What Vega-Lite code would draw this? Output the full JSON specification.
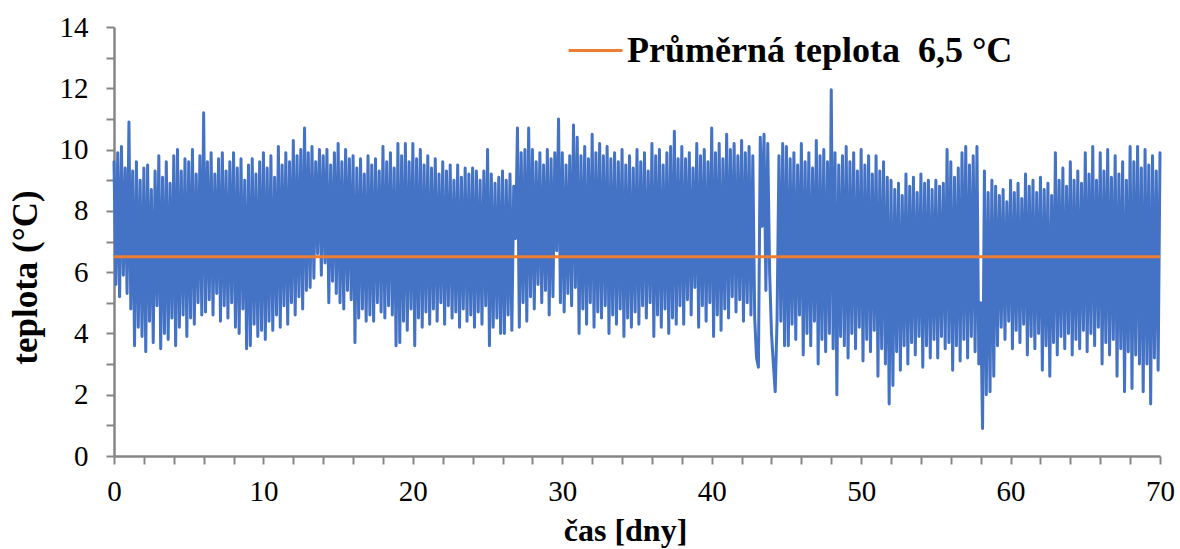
{
"$schema": "https://vega.github.io/schema/vega-lite/v6.json",
"width": 1046, "height": 429,
"autosize": {"type": "none"},
"padding": {"left": 114, "top": 27, "right": 20, "bottom": 93},
"background": "white",
"config": {"view": {"stroke": null}, "font": "Liberation Serif",
 "axis": {"domainColor": "#868686", "domainWidth": 2.5, "tickColor": "#868686", "tickWidth": 2, "tickSize": 8, "grid": false, "labelOverlap": false,
  "labelFont": "Liberation Serif", "labelFontSize": 29, "labelColor": "black", "titleFont": "Liberation Serif", "titleFontWeight": "bold", "titleColor": "black"}},
"datasets": {"temp": [
{"t":0,"v":9.6},{"t":0.125,"v":5.6},{"t":0.25,"v":9.9},{"t":0.375,"v":5.2},{"t":0.5,"v":10.1},{"t":0.625,"v":5.9},{"t":0.75,"v":9.4},{"t":0.875,"v":5.3},
{"t":1,"v":10.9},{"t":1.125,"v":4.8},{"t":1.25,"v":9.3},{"t":1.375,"v":3.6},{"t":1.5,"v":9.6},{"t":1.625,"v":4.2},{"t":1.75,"v":9.0},{"t":1.875,"v":3.9},
{"t":2,"v":9.4},{"t":2.125,"v":3.4},{"t":2.25,"v":9.5},{"t":2.375,"v":4.4},{"t":2.5,"v":8.7},{"t":2.625,"v":3.7},{"t":2.75,"v":9.3},{"t":2.875,"v":4.9},
{"t":3,"v":9.8},{"t":3.125,"v":3.5},{"t":3.25,"v":9.1},{"t":3.375,"v":4.0},{"t":3.5,"v":9.6},{"t":3.625,"v":3.8},{"t":3.75,"v":8.9},{"t":3.875,"v":4.5},
{"t":4,"v":9.8},{"t":4.125,"v":3.6},{"t":4.25,"v":10.0},{"t":4.375,"v":4.2},{"t":4.5,"v":9.3},{"t":4.625,"v":4.6},{"t":4.75,"v":9.7},{"t":4.875,"v":3.9},
{"t":5,"v":9.6},{"t":5.125,"v":4.5},{"t":5.25,"v":10.0},{"t":5.375,"v":4.3},{"t":5.5,"v":9.2},{"t":5.625,"v":5.0},{"t":5.75,"v":9.8},{"t":5.875,"v":4.6},
{"t":6,"v":11.2},{"t":6.125,"v":4.7},{"t":6.25,"v":9.6},{"t":6.375,"v":5.1},{"t":6.5,"v":9.9},{"t":6.625,"v":4.6},{"t":6.75,"v":9.2},{"t":6.875,"v":5.3},
{"t":7,"v":9.7},{"t":7.125,"v":4.4},{"t":7.25,"v":9.9},{"t":7.375,"v":4.9},{"t":7.5,"v":9.3},{"t":7.625,"v":4.5},{"t":7.75,"v":9.6},{"t":7.875,"v":5.0},
{"t":8,"v":9.9},{"t":8.125,"v":4.2},{"t":8.25,"v":9.4},{"t":8.375,"v":4.0},{"t":8.5,"v":9.7},{"t":8.625,"v":4.8},{"t":8.75,"v":9.0},{"t":8.875,"v":3.5},
{"t":9,"v":9.5},{"t":9.125,"v":3.6},{"t":9.25,"v":9.7},{"t":9.375,"v":4.3},{"t":9.5,"v":9.2},{"t":9.625,"v":3.9},{"t":9.75,"v":9.6},{"t":9.875,"v":4.1},
{"t":10,"v":9.9},{"t":10.125,"v":3.8},{"t":10.25,"v":9.4},{"t":10.375,"v":4.4},{"t":10.5,"v":9.8},{"t":10.625,"v":4.1},{"t":10.75,"v":9.1},{"t":10.875,"v":4.6},
{"t":11,"v":10.1},{"t":11.125,"v":4.2},{"t":11.25,"v":9.5},{"t":11.375,"v":4.9},{"t":11.5,"v":9.9},{"t":11.625,"v":4.3},{"t":11.75,"v":9.6},{"t":11.875,"v":5.0},
{"t":12,"v":10.3},{"t":12.125,"v":4.6},{"t":12.25,"v":9.8},{"t":12.375,"v":5.2},{"t":12.5,"v":10.0},{"t":12.625,"v":4.8},{"t":12.75,"v":10.7},{"t":12.875,"v":5.4},
{"t":13,"v":9.9},{"t":13.125,"v":5.5},{"t":13.25,"v":10.1},{"t":13.375,"v":5.8},{"t":13.5,"v":9.6},{"t":13.625,"v":6.6},{"t":13.75,"v":10.0},{"t":13.875,"v":5.9},
{"t":14,"v":9.8},{"t":14.125,"v":6.3},{"t":14.25,"v":10.0},{"t":14.375,"v":5.0},{"t":14.5,"v":9.5},{"t":14.625,"v":5.7},{"t":14.75,"v":9.9},{"t":14.875,"v":5.3},
{"t":15,"v":10.2},{"t":15.125,"v":5.0},{"t":15.25,"v":9.6},{"t":15.375,"v":4.8},{"t":15.5,"v":10.0},{"t":15.625,"v":5.4},{"t":15.75,"v":9.7},{"t":15.875,"v":5.1},
{"t":16,"v":9.8},{"t":16.125,"v":3.7},{"t":16.25,"v":9.4},{"t":16.375,"v":4.5},{"t":16.5,"v":9.7},{"t":16.625,"v":4.8},{"t":16.75,"v":9.2},{"t":16.875,"v":4.4},
{"t":17,"v":9.8},{"t":17.125,"v":4.6},{"t":17.25,"v":9.5},{"t":17.375,"v":4.4},{"t":17.5,"v":9.7},{"t":17.625,"v":5.0},{"t":17.75,"v":9.3},{"t":17.875,"v":4.7},
{"t":18,"v":10.1},{"t":18.125,"v":4.5},{"t":18.25,"v":9.6},{"t":18.375,"v":4.9},{"t":18.5,"v":9.9},{"t":18.625,"v":4.6},{"t":18.75,"v":9.4},{"t":18.875,"v":3.6},
{"t":19,"v":10.2},{"t":19.125,"v":3.7},{"t":19.25,"v":9.8},{"t":19.375,"v":4.4},{"t":19.5,"v":10.2},{"t":19.625,"v":4.1},{"t":19.75,"v":9.6},{"t":19.875,"v":4.8},
{"t":20,"v":10.2},{"t":20.125,"v":3.6},{"t":20.25,"v":9.7},{"t":20.375,"v":4.5},{"t":20.5,"v":10.0},{"t":20.625,"v":4.2},{"t":20.75,"v":9.5},{"t":20.875,"v":4.7},
{"t":21,"v":9.8},{"t":21.125,"v":4.3},{"t":21.25,"v":9.4},{"t":21.375,"v":4.8},{"t":21.5,"v":9.7},{"t":21.625,"v":4.4},{"t":21.75,"v":9.2},{"t":21.875,"v":5.0},
{"t":22,"v":9.6},{"t":22.125,"v":4.3},{"t":22.25,"v":9.3},{"t":22.375,"v":4.9},{"t":22.5,"v":9.5},{"t":22.625,"v":4.5},{"t":22.75,"v":9.0},{"t":22.875,"v":4.7},
{"t":23,"v":9.5},{"t":23.125,"v":4.2},{"t":23.25,"v":9.1},{"t":23.375,"v":4.8},{"t":23.5,"v":9.4},{"t":23.625,"v":4.4},{"t":23.75,"v":9.2},{"t":23.875,"v":4.6},
{"t":24,"v":9.4},{"t":24.125,"v":4.2},{"t":24.25,"v":9.3},{"t":24.375,"v":4.7},{"t":24.5,"v":9.0},{"t":24.625,"v":4.3},{"t":24.75,"v":9.3},{"t":24.875,"v":4.9},
{"t":25,"v":10.0},{"t":25.125,"v":3.6},{"t":25.25,"v":9.2},{"t":25.375,"v":4.2},{"t":25.5,"v":8.9},{"t":25.625,"v":4.5},{"t":25.75,"v":9.1},{"t":25.875,"v":4.0},
{"t":26,"v":9.3},{"t":26.125,"v":4.0},{"t":26.25,"v":9.0},{"t":26.375,"v":4.6},{"t":26.5,"v":9.2},{"t":26.625,"v":4.1},{"t":26.75,"v":8.8},{"t":26.875,"v":7.1},
{"t":27,"v":10.7},{"t":27.125,"v":4.2},{"t":27.25,"v":9.9},{"t":27.375,"v":5.0},{"t":27.5,"v":10.0},{"t":27.625,"v":4.4},{"t":27.75,"v":10.7},{"t":27.875,"v":5.2},
{"t":28,"v":10.0},{"t":28.125,"v":4.8},{"t":28.25,"v":9.6},{"t":28.375,"v":5.6},{"t":28.5,"v":9.9},{"t":28.625,"v":5.0},{"t":28.75,"v":9.5},{"t":28.875,"v":5.4},
{"t":29,"v":10.0},{"t":29.125,"v":4.6},{"t":29.25,"v":9.7},{"t":29.375,"v":5.2},{"t":29.5,"v":9.9},{"t":29.625,"v":6.7},{"t":29.75,"v":11.0},{"t":29.875,"v":5.0},
{"t":30,"v":9.9},{"t":30.125,"v":4.7},{"t":30.25,"v":9.5},{"t":30.375,"v":5.3},{"t":30.5,"v":9.8},{"t":30.625,"v":4.9},{"t":30.75,"v":10.8},{"t":30.875,"v":5.5},
{"t":31,"v":10.4},{"t":31.125,"v":4.0},{"t":31.25,"v":9.8},{"t":31.375,"v":4.8},{"t":31.5,"v":10.1},{"t":31.625,"v":4.3},{"t":31.75,"v":9.7},{"t":31.875,"v":5.0},
{"t":32,"v":10.5},{"t":32.125,"v":4.2},{"t":32.25,"v":9.9},{"t":32.375,"v":4.7},{"t":32.5,"v":10.2},{"t":32.625,"v":4.5},{"t":32.75,"v":9.8},{"t":32.875,"v":4.9},
{"t":33,"v":10.1},{"t":33.125,"v":4.0},{"t":33.25,"v":9.7},{"t":33.375,"v":4.6},{"t":33.5,"v":9.9},{"t":33.625,"v":4.3},{"t":33.75,"v":9.6},{"t":33.875,"v":4.8},
{"t":34,"v":10.0},{"t":34.125,"v":3.9},{"t":34.25,"v":9.5},{"t":34.375,"v":4.5},{"t":34.5,"v":9.8},{"t":34.625,"v":4.2},{"t":34.75,"v":9.4},{"t":34.875,"v":4.7},
{"t":35,"v":10.0},{"t":35.125,"v":4.3},{"t":35.25,"v":9.6},{"t":35.375,"v":4.9},{"t":35.5,"v":9.9},{"t":35.625,"v":4.5},{"t":35.75,"v":9.3},{"t":35.875,"v":5.0},
{"t":36,"v":10.2},{"t":36.125,"v":3.9},{"t":36.25,"v":9.8},{"t":36.375,"v":4.6},{"t":36.5,"v":10.0},{"t":36.625,"v":4.2},{"t":36.75,"v":9.5},{"t":36.875,"v":4.8},
{"t":37,"v":9.9},{"t":37.125,"v":4.0},{"t":37.25,"v":10.1},{"t":37.375,"v":4.5},{"t":37.5,"v":10.6},{"t":37.625,"v":4.3},{"t":37.75,"v":9.7},{"t":37.875,"v":4.9},
{"t":38,"v":10.1},{"t":38.125,"v":4.3},{"t":38.25,"v":9.7},{"t":38.375,"v":5.1},{"t":38.5,"v":9.9},{"t":38.625,"v":4.6},{"t":38.75,"v":9.4},{"t":38.875,"v":5.5},
{"t":39,"v":10.2},{"t":39.125,"v":4.2},{"t":39.25,"v":9.8},{"t":39.375,"v":4.9},{"t":39.5,"v":10.0},{"t":39.625,"v":4.4},{"t":39.75,"v":9.6},{"t":39.875,"v":5.0},
{"t":40,"v":10.7},{"t":40.125,"v":3.9},{"t":40.25,"v":9.9},{"t":40.375,"v":4.6},{"t":40.5,"v":10.2},{"t":40.625,"v":4.1},{"t":40.75,"v":9.7},{"t":40.875,"v":4.8},
{"t":41,"v":10.5},{"t":41.125,"v":4.5},{"t":41.25,"v":10.0},{"t":41.375,"v":5.2},{"t":41.5,"v":10.2},{"t":41.625,"v":4.7},{"t":41.75,"v":9.8},{"t":41.875,"v":5.1},
{"t":42,"v":10.3},{"t":42.125,"v":4.4},{"t":42.25,"v":9.9},{"t":42.375,"v":5.0},{"t":42.5,"v":10.1},{"t":42.625,"v":4.6},{"t":42.75,"v":9.8},{"t":42.875,"v":4.5},
{"t":43,"v":3.2},{"t":43.125,"v":2.9},{"t":43.25,"v":10.4},{"t":43.375,"v":7.5},{"t":43.5,"v":10.5},{"t":43.625,"v":5.4},{"t":43.75,"v":10.2},{"t":43.875,"v":6.0},
{"t":44,"v":4.0},{"t":44.125,"v":3.0},{"t":44.25,"v":2.1},{"t":44.375,"v":4.5},{"t":44.5,"v":9.8},{"t":44.625,"v":4.4},{"t":44.75,"v":10.2},{"t":44.875,"v":3.6},
{"t":45,"v":10.1},{"t":45.125,"v":3.6},{"t":45.25,"v":9.7},{"t":45.375,"v":4.3},{"t":45.5,"v":9.9},{"t":45.625,"v":3.8},{"t":45.75,"v":9.5},{"t":45.875,"v":4.6},
{"t":46,"v":10.2},{"t":46.125,"v":3.3},{"t":46.25,"v":9.6},{"t":46.375,"v":4.0},{"t":46.5,"v":9.9},{"t":46.625,"v":3.6},{"t":46.75,"v":9.4},{"t":46.875,"v":4.4},
{"t":47,"v":10.3},{"t":47.125,"v":3.0},{"t":47.25,"v":9.8},{"t":47.375,"v":3.8},{"t":47.5,"v":10.0},{"t":47.625,"v":3.4},{"t":47.75,"v":9.6},{"t":47.875,"v":4.0},
{"t":48,"v":11.95},{"t":48.125,"v":3.5},{"t":48.25,"v":9.9},{"t":48.375,"v":2.0},{"t":48.5,"v":9.5},{"t":48.625,"v":3.9},{"t":48.75,"v":9.8},{"t":48.875,"v":3.6},
{"t":49,"v":10.1},{"t":49.125,"v":3.2},{"t":49.25,"v":9.6},{"t":49.375,"v":4.0},{"t":49.5,"v":9.9},{"t":49.625,"v":3.5},{"t":49.75,"v":9.3},{"t":49.875,"v":4.2},
{"t":50,"v":10.0},{"t":50.125,"v":3.1},{"t":50.25,"v":9.5},{"t":50.375,"v":3.8},{"t":50.5,"v":9.8},{"t":50.625,"v":3.4},{"t":50.75,"v":9.2},{"t":50.875,"v":4.1},
{"t":51,"v":9.8},{"t":51.125,"v":2.6},{"t":51.25,"v":9.3},{"t":51.375,"v":3.5},{"t":51.5,"v":9.6},{"t":51.625,"v":3.0},{"t":51.75,"v":9.1},{"t":51.875,"v":1.7},
{"t":52,"v":9.0},{"t":52.125,"v":2.3},{"t":52.25,"v":8.7},{"t":52.375,"v":3.4},{"t":52.5,"v":8.9},{"t":52.625,"v":2.8},{"t":52.75,"v":8.5},{"t":52.875,"v":3.6},
{"t":53,"v":9.2},{"t":53.125,"v":3.0},{"t":53.25,"v":8.8},{"t":53.375,"v":3.7},{"t":53.5,"v":9.1},{"t":53.625,"v":3.3},{"t":53.75,"v":8.6},{"t":53.875,"v":3.9},
{"t":54,"v":9.2},{"t":54.125,"v":2.9},{"t":54.25,"v":8.9},{"t":54.375,"v":3.6},{"t":54.5,"v":9.0},{"t":54.625,"v":3.2},{"t":54.75,"v":8.7},{"t":54.875,"v":3.8},
{"t":55,"v":9.0},{"t":55.125,"v":3.2},{"t":55.25,"v":8.8},{"t":55.375,"v":3.9},{"t":55.5,"v":8.9},{"t":55.625,"v":3.5},{"t":55.75,"v":10.0},{"t":55.875,"v":3.7},
{"t":56,"v":9.6},{"t":56.125,"v":2.8},{"t":56.25,"v":9.1},{"t":56.375,"v":3.6},{"t":56.5,"v":9.4},{"t":56.625,"v":3.1},{"t":56.75,"v":9.9},{"t":56.875,"v":3.8},
{"t":57,"v":10.1},{"t":57.125,"v":3.2},{"t":57.25,"v":9.5},{"t":57.375,"v":3.9},{"t":57.5,"v":9.8},{"t":57.625,"v":3.4},{"t":57.75,"v":10.1},{"t":57.875,"v":3.0},
{"t":58,"v":5.0},{"t":58.125,"v":0.9},{"t":58.25,"v":9.3},{"t":58.375,"v":2.0},{"t":58.5,"v":8.6},{"t":58.625,"v":2.1},{"t":58.75,"v":9.0},{"t":58.875,"v":2.6},
{"t":59,"v":8.8},{"t":59.125,"v":3.6},{"t":59.25,"v":8.5},{"t":59.375,"v":4.2},{"t":59.5,"v":8.7},{"t":59.625,"v":3.8},{"t":59.75,"v":8.3},{"t":59.875,"v":4.4},
{"t":60,"v":9.0},{"t":60.125,"v":3.5},{"t":60.25,"v":8.6},{"t":60.375,"v":4.1},{"t":60.5,"v":8.9},{"t":60.625,"v":3.7},{"t":60.75,"v":8.4},{"t":60.875,"v":4.3},
{"t":61,"v":9.2},{"t":61.125,"v":3.3},{"t":61.25,"v":8.8},{"t":61.375,"v":3.9},{"t":61.5,"v":9.0},{"t":61.625,"v":3.5},{"t":61.75,"v":8.6},{"t":61.875,"v":4.0},
{"t":62,"v":9.1},{"t":62.125,"v":2.8},{"t":62.25,"v":8.7},{"t":62.375,"v":3.6},{"t":62.5,"v":8.9},{"t":62.625,"v":2.6},{"t":62.75,"v":8.5},{"t":62.875,"v":3.7},
{"t":63,"v":9.9},{"t":63.125,"v":3.3},{"t":63.25,"v":9.0},{"t":63.375,"v":3.9},{"t":63.5,"v":9.4},{"t":63.625,"v":3.5},{"t":63.75,"v":8.8},{"t":63.875,"v":4.0},
{"t":64,"v":9.6},{"t":64.125,"v":3.3},{"t":64.25,"v":9.0},{"t":64.375,"v":3.8},{"t":64.5,"v":9.3},{"t":64.625,"v":3.5},{"t":64.75,"v":8.9},{"t":64.875,"v":4.1},
{"t":65,"v":9.9},{"t":65.125,"v":3.4},{"t":65.25,"v":9.2},{"t":65.375,"v":4.0},{"t":65.5,"v":10.1},{"t":65.625,"v":3.6},{"t":65.75,"v":9.0},{"t":65.875,"v":4.2},
{"t":66,"v":9.9},{"t":66.125,"v":3.0},{"t":66.25,"v":9.3},{"t":66.375,"v":3.7},{"t":66.5,"v":10.0},{"t":66.625,"v":3.3},{"t":66.75,"v":9.1},{"t":66.875,"v":3.8},
{"t":67,"v":9.8},{"t":67.125,"v":2.6},{"t":67.25,"v":9.2},{"t":67.375,"v":3.5},{"t":67.5,"v":9.6},{"t":67.625,"v":2.1},{"t":67.75,"v":9.0},{"t":67.875,"v":3.4},
{"t":68,"v":10.1},{"t":68.125,"v":2.2},{"t":68.25,"v":9.6},{"t":68.375,"v":3.3},{"t":68.5,"v":10.1},{"t":68.625,"v":3.0},{"t":68.75,"v":9.4},{"t":68.875,"v":2.1},
{"t":69,"v":10.0},{"t":69.125,"v":3.0},{"t":69.25,"v":9.5},{"t":69.375,"v":1.7},{"t":69.5,"v":9.8},{"t":69.625,"v":3.2},{"t":69.75,"v":9.3},{"t":69.875,"v":2.8},
{"t":70,"v":9.9}
]},
"encoding": {
 "x": {"field": "t", "type": "quantitative", "scale": {"domain": [0, 70], "nice": false, "zero": false},
   "axis": {"title": "čas [dny]", "values": [0,2,4,6,8,10,12,14,16,18,20,22,24,26,28,30,32,34,36,38,40,42,44,46,48,50,52,54,56,58,60,62,64,66,68,70],
    "labelExpr": "datum.value % 10 === 0 ? datum.label : ''", "labelOverlap": false, "labelFlush": false,
    "labelFont": "Liberation Serif", "labelFontSize": 29, "labelBaseline": "alphabetic", "labelPadding": 36,
    "titleFontSize": 32, "titleBaseline": "alphabetic", "titleX": 511, "titleY": 84}},
 "y": {"field": "v", "type": "quantitative", "scale": {"domain": [0, 14], "nice": false},
   "axis": {"title": "teplota (°C)", "values": [0,1,2,3,4,5,6,7,8,9,10,11,12,13,14],
    "labelExpr": "datum.value % 2 === 0 ? datum.label : ''", "labelOverlap": false,
    "labelFont": "Liberation Serif", "labelFontSize": 29, "labelPadding": 18,
    "titleFontSize": 35, "titleBaseline": "alphabetic", "titleX": -78, "titleY": 250}}
},
"layer": [
 {"data": {"name": "temp"},
  "mark": {"type": "line", "color": "#4472C4", "strokeWidth": 3, "strokeJoin": "round", "strokeCap": "round"}},
 {"data": {"values": [{"t": 0, "v": 6.5, "s": "Průměrná teplota\u00a0 6,5 °C"}, {"t": 70, "v": 6.5, "s": "Průměrná teplota\u00a0 6,5 °C"}]},
  "mark": {"type": "line", "strokeWidth": 3},
  "encoding": {
   "color": {"field": "s", "type": "nominal", "scale": {"range": ["#ED7D31"]},
     "legend": {"title": null, "orient": "none", "legendX": 453, "legendY": -5, "symbolType": "stroke", "symbolStrokeWidth": 3, "symbolSize": 2900,
      "labelFont": "Liberation Serif", "labelFontSize": 36, "labelFontWeight": "bold", "labelColor": "black", "labelLimit": 800, "labelOffset": 3}}
  }}
]
}
